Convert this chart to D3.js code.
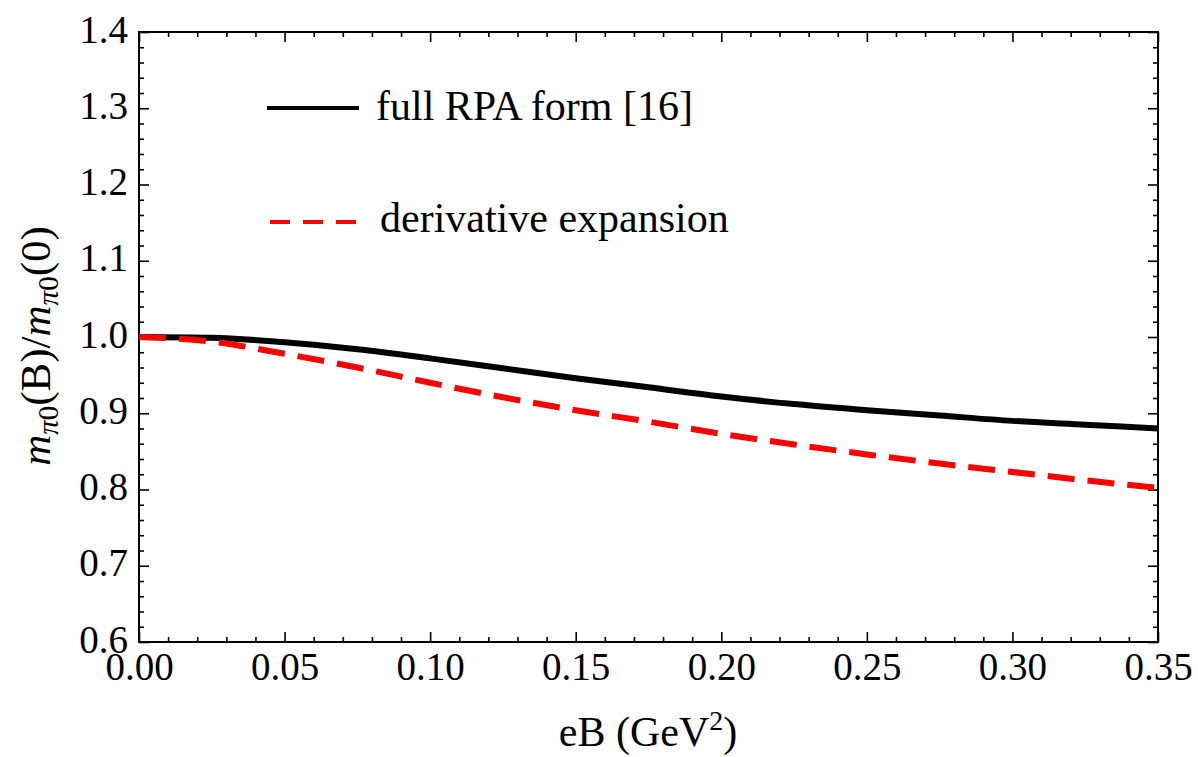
<!DOCTYPE html>
<html>
<head>
<meta charset="utf-8">
<script src="https://cdn.jsdelivr.net/npm/d3@7"></script>
<style>
html,body{margin:0;padding:0;background:#fff;}
svg{display:block;}
text{font-family:"Liberation Serif","Times New Roman",serif;fill:#000;}
</style>
</head>
<body>
<svg id="chart" width="1198" height="757"></svg>
<script>
// ---- data ----
const eB = [0, 0.025, 0.05, 0.075, 0.10, 0.125, 0.15, 0.175, 0.20, 0.225, 0.25, 0.275, 0.30, 0.325, 0.35];
const fullRPA = [1.000, 0.999, 0.993, 0.984, 0.972, 0.959, 0.946, 0.934, 0.922, 0.912, 0.904, 0.897, 0.890, 0.885, 0.880];
const derivExp = [1.000, 0.994, 0.978, 0.960, 0.940, 0.921, 0.904, 0.889, 0.873, 0.859, 0.846, 0.834, 0.823, 0.812, 0.802];
const xTicks = [0, 0.05, 0.10, 0.15, 0.20, 0.25, 0.30, 0.35];
const yTicks = [0.6, 0.7, 0.8, 0.9, 1.0, 1.1, 1.2, 1.3, 1.4];
const seriesNames = ["full RPA form [16]", "derivative expansion"];

const svg = d3.select("#chart");
const L = 139, R = 1158, T = 32, B = 642;
const x = d3.scaleLinear().domain([0, 0.35]).range([L, R]);
const y = d3.scaleLinear().domain([0.6, 1.4]).range([B, T]);

const xMinor = d3.range(0, 0.3501, 0.01).filter(v => Math.abs(v*20 - Math.round(v*20)) > 1e-6);
const yMinor = d3.range(0.6, 1.4001, 0.02).filter(v => Math.abs(v*10 - Math.round(v*10)) > 1e-6);

function styleAxis(g){
  g.select(".domain").remove();
  g.selectAll(".tick line").attr("stroke","#000").attr("stroke-width",1.6);
}
// bottom
svg.append("g").attr("transform",`translate(0,${B})`)
  .call(d3.axisBottom(x).tickValues(xTicks).tickSize(-10).tickPadding(0).tickFormat(d3.format(".2f")))
  .call(styleAxis)
  .call(g=>g.selectAll("text").attr("font-size",39).attr("y",38).attr("dy",0).attr("font-family","Liberation Serif"));
svg.append("g").attr("transform",`translate(0,${B})`)
  .call(d3.axisBottom(x).tickValues(xMinor).tickSize(-5).tickFormat(""))
  .call(styleAxis);
// top
svg.append("g").attr("transform",`translate(0,${T})`)
  .call(d3.axisTop(x).tickValues(xTicks).tickSize(-10).tickFormat(""))
  .call(styleAxis);
svg.append("g").attr("transform",`translate(0,${T})`)
  .call(d3.axisTop(x).tickValues(xMinor).tickSize(-5).tickFormat(""))
  .call(styleAxis);
// left
svg.append("g").attr("transform",`translate(${L},0)`)
  .call(d3.axisLeft(y).tickValues(yTicks).tickSize(-10).tickPadding(0).tickFormat(d3.format(".1f")))
  .call(styleAxis)
  .call(g=>g.selectAll("text").attr("font-size",39).attr("x",-11).attr("dy",10).attr("font-family","Liberation Serif"));
svg.append("g").attr("transform",`translate(${L},0)`)
  .call(d3.axisLeft(y).tickValues(yMinor).tickSize(-5).tickFormat(""))
  .call(styleAxis);
// right
svg.append("g").attr("transform",`translate(${R},0)`)
  .call(d3.axisRight(y).tickValues(yTicks).tickSize(-10).tickFormat(""))
  .call(styleAxis);
svg.append("g").attr("transform",`translate(${R},0)`)
  .call(d3.axisRight(y).tickValues(yMinor).tickSize(-5).tickFormat(""))
  .call(styleAxis);

// frame
svg.append("rect").attr("x",L).attr("y",T).attr("width",R-L).attr("height",B-T)
  .attr("fill","none").attr("stroke","#000").attr("stroke-width",2);

// curves
const clip = svg.append("clipPath").attr("id","clip").append("rect")
  .attr("x",L).attr("y",T).attr("width",R-L).attr("height",B-T);
const line = d3.line().x(d=>x(d[0])).y(d=>y(d[1])).curve(d3.curveMonotoneX);
svg.append("path").datum(eB.map((v,i)=>[v,fullRPA[i]]))
  .attr("d",line).attr("fill","none").attr("stroke","#000").attr("stroke-width",6)
  .attr("clip-path","url(#clip)");
svg.append("path").datum(eB.map((v,i)=>[v,derivExp[i]]))
  .attr("d",line).attr("fill","none").attr("stroke","#ff0000").attr("stroke-width",6)
  .attr("stroke-dasharray","27,13").attr("clip-path","url(#clip)");

// legend
svg.append("line").attr("x1",267).attr("x2",359).attr("y1",108).attr("y2",108)
  .attr("stroke","#000").attr("stroke-width",4);
svg.append("text").attr("x",376).attr("y",120).attr("font-size",42).text(seriesNames[0]);
svg.append("line").attr("x1",270).attr("x2",356).attr("y1",222).attr("y2",222)
  .attr("stroke","#ff0000").attr("stroke-width",4).attr("stroke-dasharray","20,13");
svg.append("text").attr("x",380).attr("y",232).attr("font-size",42).text(seriesNames[1]);

// x label
const xl = svg.append("text").attr("x",648).attr("y",746).attr("text-anchor","middle").attr("font-size",42);
xl.append("tspan").text("eB (GeV");
xl.append("tspan").attr("dy",-16).attr("font-size",28).text("2");
xl.append("tspan").attr("dy",16).text(")");

// y label
const yl = svg.append("text").attr("transform","translate(50,346) rotate(-90)")
  .attr("text-anchor","middle").attr("font-size",43);
yl.append("tspan").attr("font-style","italic").text("m");
yl.append("tspan").attr("dy",8).attr("font-size",29).attr("font-style","italic").text("π");
yl.append("tspan").attr("font-size",29).text("0");
yl.append("tspan").attr("dy",-8).text("(B)/");
yl.append("tspan").attr("font-style","italic").text("m");
yl.append("tspan").attr("dy",8).attr("font-size",29).attr("font-style","italic").text("π");
yl.append("tspan").attr("font-size",29).text("0");
yl.append("tspan").attr("dy",-8).text("(0)");
</script>
</body>
</html>
